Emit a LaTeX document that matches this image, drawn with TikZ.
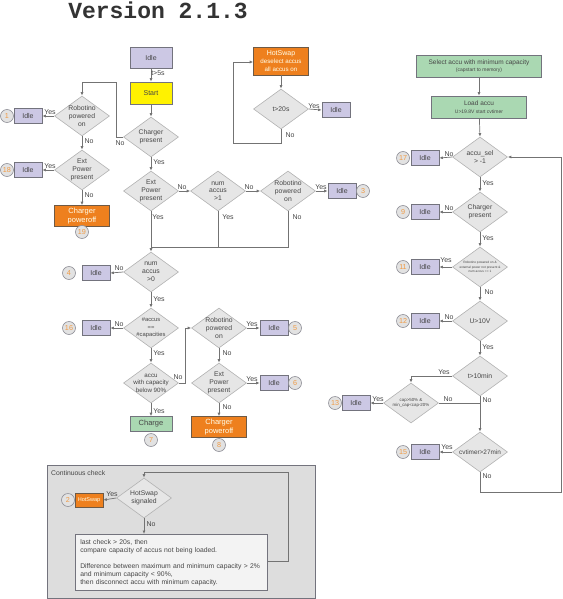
\documentclass[tikz,border=0pt]{standalone}
\usepackage{fontspec}
\setmainfont{Liberation Sans}
\newfontfamily\monob{Liberation Mono}
\usetikzlibrary{shapes.geometric,arrows.meta}
\definecolor{idlef}{RGB}{204,200,228}
\definecolor{idled}{RGB}{115,115,125}
\definecolor{diaf}{RGB}{230,230,230}
\definecolor{diad}{RGB}{178,178,178}
\definecolor{orf}{RGB}{238,128,30}
\definecolor{ord}{RGB}{110,90,70}
\definecolor{grf}{RGB}{170,216,178}
\definecolor{yelf}{RGB}{255,242,0}
\definecolor{circf}{RGB}{226,226,226}
\definecolor{numcol}{RGB}{240,155,70}
\definecolor{txt}{RGB}{70,70,70}
\definecolor{linec}{RGB}{115,115,115}
\definecolor{boxf}{RGB}{221,221,221}
\definecolor{tboxf}{RGB}{243,243,243}
\newcommand\Dia[4][]{\node[dia,label={[dtext,#1]center:#4}] (#2) at (#3) {};}
\newcommand\Lab[3]{\node[lab] (#1) at (#2) {#3};}
\begin{document}
\begin{tikzpicture}[x=1pt,y=-1pt,
  dia/.style={diamond,draw=diad,fill=diaf,minimum width=55pt,minimum height=40pt,inner sep=0pt,line width=0.6pt},
  dtext/.style={align=center,text=txt,font=\fontsize{6.8}{7.8}\selectfont,inner sep=0pt},
  idle/.style={rectangle,draw=idled,fill=idlef,minimum width=28pt,minimum height=15pt,inner sep=0pt,text=txt,font=\fontsize{7}{8}\selectfont,line width=0.6pt},
  idlebig/.style={idle,minimum width=42pt,minimum height=21pt},
  startbox/.style={rectangle,draw=idled,fill=yelf,minimum width=42pt,minimum height=22pt,inner sep=0pt,text=txt,font=\fontsize{7}{8}\selectfont,line width=0.6pt},
  orbox/.style={rectangle,draw=ord,fill=orf,minimum width=55pt,minimum height=21pt,inner sep=0pt,align=center,text=white!92!yellow,font=\fontsize{7.5}{8.5}\selectfont,line width=0.6pt},
  grbox/.style={rectangle,draw=idled,fill=grf,minimum width=42pt,minimum height=15pt,inner sep=0pt,align=center,text=txt,font=\fontsize{7.5}{8.5}\selectfont,line width=0.6pt},
  numcirc/.style={circle,draw=idled!80,fill=circf,minimum size=13pt,inner sep=0pt,text=numcol,font=\fontsize{7.2}{8}\selectfont,line width=0.6pt},
  lab/.style={text=txt,font=\fontsize{7}{8}\selectfont,inner sep=0pt},
  arr/.style={draw=linec,line width=0.7pt,-{Latex[length=3.5pt,width=3pt]}},
  ln/.style={draw=linec,line width=0.7pt}]
\useasboundingbox (0,0) rectangle (562,599);
% title
\node[font=\monob\bfseries\fontsize{23}{23}\selectfont,text=black!80,anchor=base,inner sep=0pt] (title) at (158,19) {Version 2.1.3};

% ---------- left / middle flow ----------
\node[idlebig] (idleT) at (151,58) {Idle};
\node[startbox] (start) at (151,93) {Start};
\Dia{cp}{151,137}{Charger\\present}
\Dia{r1}{82,116}{Robotino\\powered\\on}
\node[idle] (i1) at (28,116) {Idle};
\node[numcirc] (n1) at (7,116) {1};
\Dia{e1}{82,170}{Ext\\Power\\present}
\node[idle] (i18) at (28,170) {Idle};
\node[numcirc] (n18) at (7,170) {18};
\node[orbox] (cpo1) at (82,216) {Charger\\poweroff};
\node[numcirc] (n19) at (82,232) {19};
\Dia{e2}{151,191}{Ext\\Power\\present}
\Dia{na1}{218,191}{num\\accus\\>1}
\Dia{r2}{288,191}{Robotino\\powered\\on}
\node[idle] (i3) at (342,191) {Idle};
\node[numcirc] (n3) at (363,191) {3};
\coordinate (m1) at (151,247);
\coordinate (m2) at (218,247);
\coordinate (m3) at (288,247);
\Dia{na0}{151,272}{num\\accus\\>0}
\node[idle] (i4) at (96,273) {Idle};
\node[numcirc] (n4) at (69,273) {4};
\Dia[font=\fontsize{5.8}{7.5}\selectfont]{ac}{151,328}{\#accus\\==\\\#capacities}
\node[idle] (i16) at (96,328) {Idle};
\node[numcirc] (n16) at (69,328) {16};
\Dia[font=\fontsize{6.2}{7.5}\selectfont]{a90}{151,383}{accu\\with capacity\\below 90\%}
\node[grbox] (chg) at (151,424) {Charge};
\node[numcirc] (n7) at (151,440) {7};
\Dia{r3}{219,328}{Robotino\\powered\\on}
\node[idle] (i5) at (274,328) {Idle};
\node[numcirc] (n5) at (295,328) {5};
\Dia{e3}{219,383}{Ext\\Power\\present}
\node[idle] (i6) at (274,383) {Idle};
\node[numcirc] (n6) at (295,383) {6};
\node[orbox] (cpo2) at (219,427) {Charger\\poweroff};
\node[numcirc] (n8) at (219,445) {8};

% ---------- HotSwap top ----------
\node[orbox,minimum height=28pt,font=\fontsize{6.2}{7.6}\selectfont] (hs) at (281,61) {{\fontsize{7}{7.6}\selectfont HotSwap}\\deselect accus\\all accus on};
\Dia{t20}{281,109}{t>20s}
\node[idle] (i20) at (336,110) {Idle};
\coordinate (h1) at (281,143);
\coordinate (h2) at (233,143);
\coordinate (h3) at (233,62);

% ---------- right column ----------
\node[grbox,minimum width=125pt,minimum height=22pt,font=\fontsize{6.5}{7.5}\selectfont] (sel) at (479,66) {Select accu with minimum capacity\\{\fontsize{5}{6}\selectfont (capstart to memory)}};
\node[grbox,minimum width=95pt,minimum height=22pt,font=\fontsize{6.5}{7.5}\selectfont] (load) at (479,107) {Load accu\\{\fontsize{5}{6}\selectfont U>19.8V start cvtimer}};
\Dia{as}{480,157}{accu\_sel\\> -1}
\node[idle] (i17) at (425,158) {Idle};
\node[numcirc] (n17) at (403,158) {17};
\Dia{cpr}{480,212}{Charger\\present}
\node[idle] (i9) at (425,212) {Idle};
\node[numcirc] (n9) at (403,212) {9};
\Dia[font=\fontsize{3.2}{4.2}\selectfont]{rr}{480,267}{Robotino powered on \&\\external power not present \&\\num accus == 1}
\node[idle] (i11) at (425,267) {Idle};
\node[numcirc] (n11) at (403,267) {11};
\Dia{u10}{480,321}{U>10V}
\node[idle] (i12) at (425,321) {Idle};
\node[numcirc] (n12) at (403,321) {12};
\Dia{t10}{480,376}{t>10min}
\Dia[font=\fontsize{4.4}{5.6}\selectfont]{cap}{411,403}{cap>50\% \&\\min\_cap<cap-20\%}
\node[idle] (i13) at (356,403) {Idle};
\node[numcirc] (n13) at (335,403) {13};
\Dia[font=\fontsize{6.4}{7.5}\selectfont]{cv}{480,452}{cvtimer>27min}
\node[idle] (i15) at (425,452) {Idle};
\node[numcirc] (n15) at (403,452) {15};
\coordinate (t10c) at (411,376);
\coordinate (capj) at (480,403);
\coordinate (cv1) at (480,492);
\coordinate (cv2) at (561,492);
\coordinate (cv3) at (561,157);

% ---------- continuous check ----------
\node[rectangle,draw=idled,fill=boxf,minimum width=268pt,minimum height=133pt,anchor=north west,inner sep=0pt,line width=0.6pt] (cc) at (47,465) {};
\node[lab,anchor=west,font=\fontsize{6.8}{8}\selectfont] (cclab) at (51,473) {Continuous check};
\Dia{hss}{144,498}{HotSwap\\signaled}
\node[orbox,minimum width=28pt,minimum height=14pt,font=\fontsize{5.5}{6.5}\selectfont] (hsb) at (89,500) {HotSwap};
\node[numcirc] (n2) at (68,500) {2};
\node[rectangle,draw=idled,fill=tboxf,anchor=north west,minimum width=192pt,minimum height=54pt,text width=182pt,inner sep=5pt,align=left,text=txt,font=\fontsize{6.8}{8}\selectfont,line width=0.6pt] (tb) at (75,534) {last check > 20s, then\\compare capacity of accus not being loaded.\\[8pt]Difference between maximum and minimum capacity > 2\%\\and minimum capacity < 90\%,\\then disconnect accu with minimum capacity.};
\coordinate (c1) at (288,561);
\coordinate (c2) at (288,472);
\coordinate (c3) at (144,472);

% ---------- connectors ----------
\draw[arr] (idleT) -- (start);
\draw[arr] (start) -- (cp);
\draw[arr] (cp.west) -- (116,137) -- (116,82) -- (82,82) -- (r1.north);
\draw[arr] (r1.west) -- (i1.east);
\draw[arr] (r1.south) -- (e1.north);
\draw[arr] (e1.west) -- (i18.east);
\draw[arr] (e1.south) -- (cpo1.north);
\draw[arr] (cp.south) -- (e2.north);
\draw[arr] (e2.east) -- (na1.west);
\draw[arr] (na1.east) -- (r2.west);
\draw[arr] (r2.east) -- (i3.west);
\draw[ln] (na1.south) -- (m2);
\draw[ln] (r2.south) -- (m3) -- (m1);
\draw[arr] (e2.south) -- (na0.north);
\draw[arr] (na0.west) -- (i4.east);
\draw[arr] (na0.south) -- (ac.north);
\draw[arr] (ac.west) -- (i16.east);
\draw[arr] (ac.south) -- (a90.north);
\draw[arr] (a90.south) -- (chg.north);
\draw[arr] (a90.east) -- (185,383) -- (185,328) -- (r3.west);
\draw[arr] (r3.east) -- (i5.west);
\draw[arr] (r3.south) -- (e3.north);
\draw[arr] (e3.east) -- (i6.west);
\draw[arr] (e3.south) -- (cpo2.north);
\draw[arr] (hs) -- (t20);
\draw[arr] (t20.east) -- (i20.west);
\draw[arr] (t20.south) -- (h1) -- (h2) -- (h3) -- (hs.west |- h3);
\draw[arr] (sel) -- (load);
\draw[arr] (load) -- (as.north);
\draw[arr] (as.west) -- (i17.east);
\draw[arr] (as.south) -- (cpr.north);
\draw[arr] (cpr.west) -- (i9.east);
\draw[arr] (cpr.south) -- (rr.north);
\draw[arr] (rr.west) -- (i11.east);
\draw[arr] (rr.south) -- (u10.north);
\draw[arr] (u10.west) -- (i12.east);
\draw[arr] (u10.south) -- (t10.north);
\draw[arr] (t10.west) -- (t10c) -- (cap.north);
\draw[ln] (cap.east) -- (capj);
\draw[arr] (cap.west) -- (i13.east);
\draw[arr] (t10.south) -- (cv.north);
\draw[arr] (cv.west) -- (i15.east);
\draw[arr] (cv.south) -- (cv1) -- (cv2) -- (cv3) -- (as.east);
\draw[arr] (hss.west) -- (hsb.east);
\draw[arr] (hss.south) -- (tb.north -| hss.south);
\draw[arr] (tb.east |- c1) -- (c1) -- (c2) -- (c3) -- (hss.north);

% ---------- labels ----------
\Lab{l1}{158,73}{t>5s}
\Lab{l2}{120,143}{No}
\Lab{l3}{50,112}{Yes}
\Lab{l4}{89,141}{No}
\Lab{l5}{50,166}{Yes}
\Lab{l6}{89,195}{No}
\Lab{l7}{159,162}{Yes}
\Lab{l8}{182,187}{No}
\Lab{l9}{158,217}{Yes}
\Lab{l10}{249,187}{No}
\Lab{l11}{321,187}{Yes}
\Lab{l12}{228,217}{Yes}
\Lab{l13}{297,217}{No}
\Lab{l14}{119,268}{No}
\Lab{l15}{159,299}{Yes}
\Lab{l16}{119,324}{No}
\Lab{l17}{159,353}{Yes}
\Lab{l18}{178,377}{No}
\Lab{l19}{159,411}{Yes}
\Lab{l20}{252,324}{Yes}
\Lab{l21}{227,353}{No}
\Lab{l22}{252,379}{Yes}
\Lab{l23}{227,407}{No}
\Lab{l24}{314,106}{Yes}
\Lab{l25}{290,135}{No}
\Lab{l26}{449,154}{No}
\Lab{l27}{488,183}{Yes}
\Lab{l28}{449,208}{No}
\Lab{l29}{488,238}{Yes}
\Lab{l30}{446,260}{Yes}
\Lab{l31}{489,292}{No}
\Lab{l32}{449,317}{No}
\Lab{l33}{488,347}{Yes}
\Lab{l34}{444,372}{Yes}
\Lab{l35}{487,400}{No}
\Lab{l36}{448,399}{No}
\Lab{l37}{378,399}{Yes}
\Lab{l38}{447,447}{Yes}
\Lab{l39}{487,476}{No}
\Lab{l40}{112,494}{Yes}
\Lab{l41}{151,524}{No}
\end{tikzpicture}
\end{document}
